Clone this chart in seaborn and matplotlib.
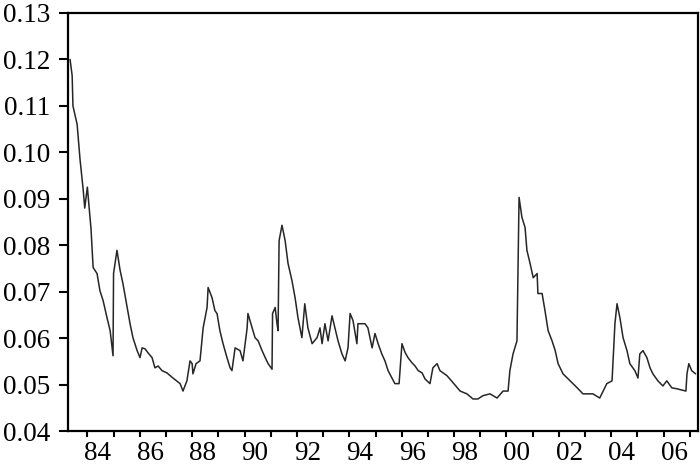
import matplotlib
matplotlib.use('Agg')
from matplotlib import pyplot as plt
from matplotlib.ticker import FixedLocator, FormatStrFormatter
import matplotlib.transforms as mtrans
import pandas as pd
import seaborn as sns

# monthly-ish series (decimal year, value)
years = [
    1983.34, 1983.42, 1983.45, 1983.61, 1983.72, 1983.84, 1983.90, 1984.00,
    1984.14, 1984.22, 1984.37, 1984.48, 1984.60, 1984.75, 1984.87, 1984.98,
    1985.00, 1985.13, 1985.25, 1985.36, 1985.52, 1985.63, 1985.74, 1985.90,
    1986.01, 1986.09, 1986.20, 1986.32, 1986.47, 1986.58, 1986.70, 1986.85,
    1987.04, 1987.27, 1987.54, 1987.65, 1987.80, 1987.92, 1988.00, 1988.03,
    1988.15, 1988.30, 1988.42, 1988.57, 1988.61, 1988.76, 1988.87, 1988.95,
    1989.06, 1989.18, 1989.33, 1989.45, 1989.52, 1989.64, 1989.83, 1989.94,
    1990.10, 1990.13, 1990.29, 1990.40, 1990.52, 1990.67, 1990.79, 1990.90,
    1991.05, 1991.07, 1991.17, 1991.24, 1991.28, 1991.32, 1991.43, 1991.55,
    1991.66, 1991.81, 1991.93, 1992.04, 1992.19, 1992.30, 1992.42, 1992.58,
    1992.77, 1992.88, 1992.96, 1993.07, 1993.19, 1993.34, 1993.45, 1993.57,
    1993.72, 1993.84, 1993.95, 1994.03, 1994.14, 1994.29, 1994.33, 1994.48,
    1994.60, 1994.71, 1994.87, 1994.98, 1995.10, 1995.24, 1995.36, 1995.48,
    1995.63, 1995.74, 1995.90, 1996.01, 1996.13, 1996.24, 1996.39, 1996.51,
    1996.63, 1996.78, 1996.89, 1997.08, 1997.19, 1997.35, 1997.46, 1997.73,
    1997.96, 1998.23, 1998.49, 1998.72, 1998.91, 1999.10, 1999.37, 1999.64,
    1999.87, 2000.06, 2000.13, 2000.25, 2000.40, 2000.48, 2000.59, 2000.71,
    2000.78, 2000.90, 2001.02, 2001.17, 2001.20, 2001.36, 2001.47, 2001.59,
    2001.74, 2001.86, 2001.97, 2002.16, 2002.43, 2002.70, 2002.92, 2003.30,
    2003.56, 2003.83, 2004.03, 2004.14, 2004.22, 2004.33, 2004.45, 2004.60,
    2004.71, 2004.90, 2005.02, 2005.09, 2005.21, 2005.36, 2005.48, 2005.59,
    2005.78, 2005.97, 2006.12, 2006.31, 2006.50, 2006.85, 2006.89, 2006.96,
    2007.07, 2007.22,
]
values = [
    0.1200, 0.1165, 0.1100, 0.1060, 0.0985, 0.0920, 0.0880, 0.0925,
    0.0835, 0.0752, 0.0739, 0.0702, 0.0681, 0.0644, 0.0616, 0.0562,
    0.0739, 0.0789, 0.0746, 0.0717, 0.0666, 0.0631, 0.0601, 0.0573,
    0.0558, 0.0579, 0.0577, 0.0568, 0.0558, 0.0536, 0.0540, 0.0530,
    0.0525, 0.0514, 0.0502, 0.0486, 0.0508, 0.0551, 0.0545, 0.0523,
    0.0545, 0.0551, 0.0622, 0.0666, 0.0709, 0.0687, 0.0659, 0.0653,
    0.0616, 0.0588, 0.0558, 0.0536, 0.0530, 0.0579, 0.0573, 0.0551,
    0.0622, 0.0653, 0.0622, 0.0601, 0.0594, 0.0573, 0.0558, 0.0545,
    0.0533, 0.0653, 0.0666, 0.0631, 0.0616, 0.0810, 0.0843, 0.0810,
    0.0761, 0.0724, 0.0687, 0.0644, 0.0601, 0.0674, 0.0622, 0.0588,
    0.0601, 0.0622, 0.0588, 0.0631, 0.0594, 0.0648, 0.0622, 0.0594,
    0.0566, 0.0551, 0.0579, 0.0653, 0.0638, 0.0588, 0.0631, 0.0631,
    0.0631, 0.0622, 0.0579, 0.0610, 0.0588, 0.0566, 0.0551, 0.0530,
    0.0514, 0.0502, 0.0502, 0.0588, 0.0569, 0.0558, 0.0547, 0.0540,
    0.0530, 0.0525, 0.0512, 0.0502, 0.0536, 0.0545, 0.0530, 0.0519,
    0.0504, 0.0486, 0.0480, 0.0469, 0.0469, 0.0476, 0.0480, 0.0471,
    0.0486, 0.0486, 0.0530, 0.0566, 0.0594, 0.0903, 0.0860, 0.0838,
    0.0789, 0.0761, 0.0730, 0.0739, 0.0696, 0.0696, 0.0659, 0.0616,
    0.0594, 0.0573, 0.0545, 0.0523, 0.0508, 0.0493, 0.0480, 0.0480,
    0.0471, 0.0502, 0.0508, 0.0631, 0.0674, 0.0644, 0.0601, 0.0573,
    0.0545, 0.0530, 0.0514, 0.0566, 0.0573, 0.0558, 0.0536, 0.0523,
    0.0508, 0.0497, 0.0508, 0.0493, 0.0491, 0.0486, 0.0523, 0.0545,
    0.0530, 0.0523,
]
tick_years = list(range(1984, 2008))
tick_labels = [f'{y % 100:02d}' if y % 2 == 0 else '' for y in tick_years]
y_ticks = [0.04, 0.05, 0.06, 0.07, 0.08, 0.09, 0.10, 0.11, 0.12, 0.13]

df = pd.DataFrame({'year': years, 'value': values})

sns.set_style('ticks')
plt.rcParams['font.family'] = ['Liberation Serif', 'DejaVu Serif']
plt.rcParams['font.size'] = 19.5

fig = plt.figure(figsize=(7, 4.65), dpi=100)
ax = fig.add_axes([0.0971, 0.0731, 0.9, 0.899])

sns.lineplot(data=df, x='year', y='value', ax=ax, color='#262626',
             linewidth=1.1, estimator=None, sort=False)

ax.set_xlim(1983.26, 2007.31)
ax.set_ylim(0.04, 0.13)
ax.xaxis.set_major_locator(FixedLocator(tick_years))
ax.set_xticklabels(tick_labels)
ax.yaxis.set_major_locator(FixedLocator(y_ticks))
ax.yaxis.set_major_formatter(FormatStrFormatter('%.2f'))
ax.set_xlabel('')
ax.set_ylabel('')

for side in ['left', 'right', 'top', 'bottom']:
    ax.spines[side].set_linewidth(1.6)
    ax.spines[side].set_color('black')
ax.tick_params(axis='y', direction='out', length=6.5, width=1.5,
               pad=6, labelsize=19.5, colors='black')
ax.tick_params(axis='x', direction='out', length=4.5, width=1.5,
               pad=3, labelsize=19.5, colors='black')

# labels sit a little to the right of their tick, as in the source chart
shift = mtrans.ScaledTranslation(10.5 / 100, 0, fig.dpi_scale_trans)
for lab in ax.get_xticklabels():
    lab.set_transform(lab.get_transform() + shift)

fig.savefig('out.png', dpi=100)
